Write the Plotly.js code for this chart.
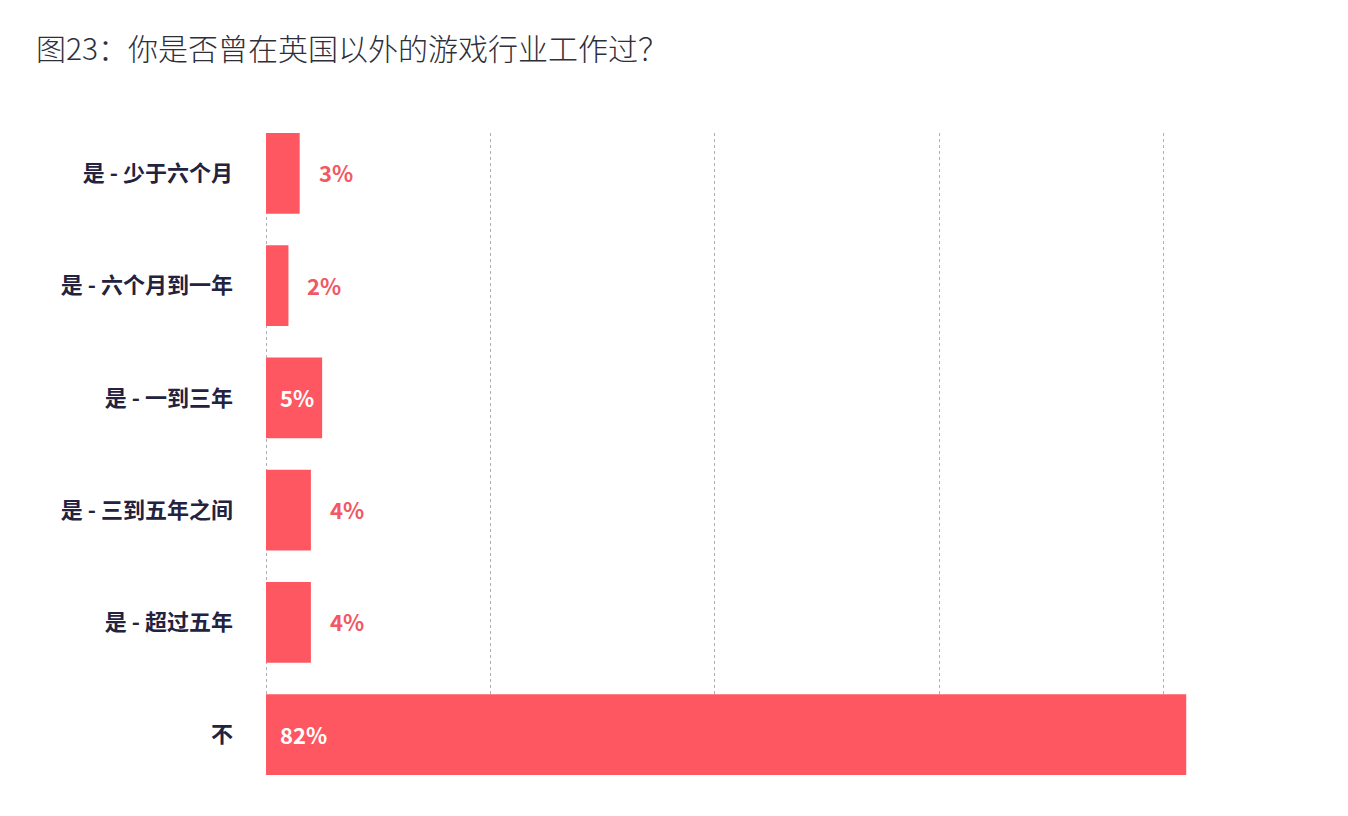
<!DOCTYPE html>
<html>
<head>
<meta charset="utf-8">
<script src="https://cdn.plot.ly/plotly-3.0.1.min.js"></script>
<style>
html,body{margin:0;padding:0;background:#fff;}
#chart{width:1348px;height:816px;}
</style>
</head>
<body>
<div id="chart"></div>
<script>
const categories = ["是 - 少于六个月", "是 - 六个月到一年", "是 - 一到三年", "是 - 三到五年之间", "是 - 超过五年", "不"];
const values = [3, 2, 5, 4, 4, 82];
const valueLabels = ["3%", "2%", "5%", "4%", "4%", "82%"];
const labelInside = [false, false, true, false, false, true];
const tickValues = [0, 20, 40, 60, 80];

const barColor = "#FF5762";
const labelColor = "#F25863";
const navy = "#23223f";

const trace = {
  type: "bar",
  orientation: "h",
  x: values,
  y: categories,
  marker: {color: barColor},
  width: 0.72,
  hoverinfo: "none"
};

const annotations = values.map((v, i) => ({
  x: labelInside[i] ? 0 : v,
  y: categories[i],
  xref: "x", yref: "y",
  text: valueLabels[i],
  showarrow: false,
  xanchor: "left",
  yanchor: "middle",
  xshift: labelInside[i] ? 12 : 17,
  yshift: 1,
  font: {family: "Noto Sans CJK SC, Noto Sans, sans-serif", size: 22, weight: 700, color: labelInside[i] ? "#ffffff" : labelColor}
}));

const layout = {
  width: 1348,
  height: 816,
  paper_bgcolor: "#ffffff",
  plot_bgcolor: "#ffffff",
  margin: {l: 264, r: 72, t: 133, b: 41},
  title: {
    text: "图23：你是否曾在英国以外的游戏行业工作过？",
    x: 0, xref: "container", xanchor: "left",
    y: 1, yref: "container", yanchor: "top",
    pad: {t: 39, l: 36},
    font: {family: "Noto Sans CJK SC, sans-serif", size: 30, weight: 300, color: "#2f2f3a"}
  },
  xaxis: {
    range: [-0.18, 90],
    tickvals: tickValues,
    showticklabels: false,
    showgrid: true,
    gridcolor: "#b0b0b0",
    griddash: "dot",
    gridwidth: 1,
    zeroline: false,
    showline: false,
    fixedrange: true
  },
  yaxis: {
    categoryorder: "array",
    categoryarray: categories,
    range: [5.36, -0.36],
    showgrid: false,
    zeroline: false,
    showline: false,
    ticks: "",
    ticklabelstandoff: 30,
    tickfont: {family: "Noto Sans CJK SC, sans-serif", size: 22, weight: 700, color: navy},
    fixedrange: true
  },
  showlegend: false,
  annotations: annotations
};

Plotly.newPlot("chart", [trace], layout, {displayModeBar: false, staticPlot: true});
</script>
</body>
</html>
